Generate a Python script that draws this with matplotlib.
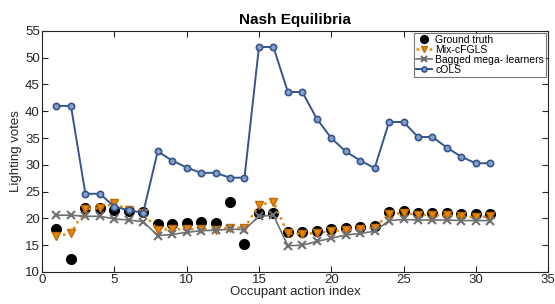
import matplotlib.pyplot as plt
import numpy as np

plt.rcParams['font.family'] = ['Liberation Sans', 'DejaVu Sans']

x = np.arange(1, 32)

ground_truth = [18, 12.4, 21.9, 22, 21.6, 21.4, 21.2, 19, 19, 19.1, 19.3, 19.2, 23.1, 15.3,
                21, 21, 17.5, 17.4, 17.7, 18, 18.3, 18.4, 18.6, 21.2, 21.3, 21.1, 21, 21,
                20.9, 20.8, 20.8]
mix_cfgls = [16.7, 17.2, 21.8, 21.9, 22.8, 21.6, 21, 17.9, 18, 18, 18, 17.9, 18.3, 18.2,
             22.5, 23.1, 17.2, 17.1, 17.3, 17.6, 17.8, 18.1, 18.3, 20.8, 21, 20.7, 20.6,
             20.6, 20.4, 20.2, 20.4]
bagged = [20.6, 20.6, 20.4, 20.4, 19.9, 19.7, 19.4, 16.8, 17, 17.4, 17.7, 17.8, 18, 17.9,
          20.4, 20.6, 14.9, 15, 15.7, 16.3, 16.9, 17.2, 17.6, 19.6, 19.8, 19.7, 19.7, 19.7,
          19.6, 19.6, 19.6]
cols = [41, 41, 24.6, 24.6, 22.2, 21.5, 21.1, 32.5, 30.8, 29.5, 28.5, 28.5, 27.6, 27.6,
        52, 52, 43.6, 43.6, 38.6, 35, 32.5, 30.8, 29.4, 38, 38, 35.2, 35.2, 33.2, 31.5,
        30.3, 30.3]

txt = '#262626'

fig = plt.figure(figsize=(5.55, 3.04), dpi=100)
ax = fig.add_axes([0.0757, 0.1053, 0.912, 0.793])

ax.plot(x, ground_truth, linestyle='none', marker='o', markersize=7,
        color='black', label='Ground truth')
ax.plot(x, mix_cfgls, linestyle=':', linewidth=1.8, color='#e8860c', marker='v',
        markersize=6, markeredgecolor='#c06a00', label='Mix-cFGLS')
ax.plot(x, bagged, linestyle='-', linewidth=1.2, color='#707070', marker='x',
        markersize=6, markeredgewidth=1.5, label='Bagged mega- learners')
ax.plot(x, cols, linestyle='-', linewidth=1.4, color='#34558f', marker='o',
        markersize=4.5, markerfacecolor='#8aa0c8', markeredgewidth=1.2,
        label='cOLS')

ax.set_xlim(0, 35)
ax.set_ylim(10, 55)
ax.set_xticks(range(0, 36, 5))
ax.set_yticks(range(10, 56, 5))
for s in ax.spines.values():
    s.set_color(txt)
    s.set_linewidth(0.8)
ax.tick_params(direction='in', top=True, right=True, labelsize=9.5, length=4,
               pad=1.5, colors=txt)
ax.set_xlabel('Occupant action index', fontsize=9.5, labelpad=0, color=txt)
ax.set_ylabel('Lighting votes', fontsize=9.5, labelpad=2, color=txt)
ax.set_title('Nash Equilibria', fontsize=11, fontweight='bold', pad=5)

leg = ax.legend(loc='upper right', fontsize=7.5, frameon=True, fancybox=False,
                edgecolor='#555555', borderpad=0.2, labelspacing=0.0,
                handlelength=1.5, handletextpad=0.3, borderaxespad=0.2,
                markerscale=0.8)
leg.get_frame().set_linewidth(0.8)

fig.savefig('out.png', dpi=100)
